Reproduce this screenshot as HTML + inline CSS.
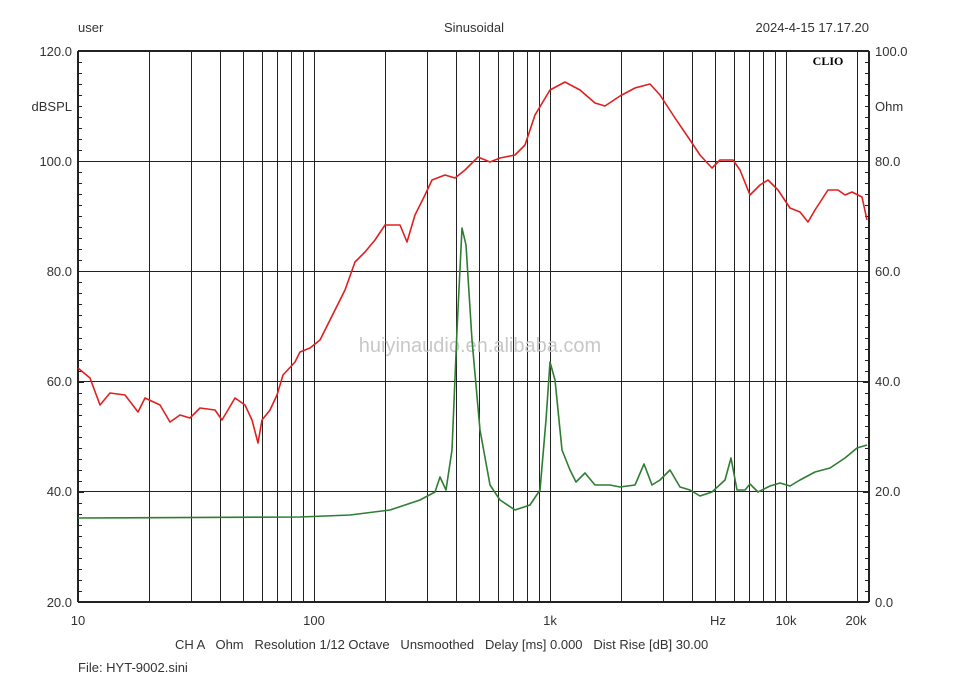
<!DOCTYPE html>
<html><head><meta charset="utf-8"><style>
html,body{margin:0;padding:0;background:#fff;width:960px;height:692px;overflow:hidden}
svg text{font-family:"Liberation Sans",sans-serif;font-size:13px;fill:#333}
</style></head><body>
<svg width="960" height="692" viewBox="0 0 960 692" xmlns="http://www.w3.org/2000/svg">
<g id="grid" stroke="#222" stroke-width="1"></g>
<text x="78" y="32">user</text>
<text x="474" y="32" text-anchor="middle">Sinusoidal</text>
<text x="869" y="32" text-anchor="end">2024-4-15 17.17.20</text>
<text x="72" y="56" text-anchor="end">120.0</text>
<text x="72" y="111" text-anchor="end">dBSPL</text>
<text x="72" y="166" text-anchor="end">100.0</text>
<text x="72" y="276" text-anchor="end">80.0</text>
<text x="72" y="386" text-anchor="end">60.0</text>
<text x="72" y="496" text-anchor="end">40.0</text>
<text x="72" y="607" text-anchor="end">20.0</text>
<text x="875" y="56">100.0</text>
<text x="875" y="111">Ohm</text>
<text x="875" y="166">80.0</text>
<text x="875" y="276">60.0</text>
<text x="875" y="386">40.0</text>
<text x="875" y="496">20.0</text>
<text x="875" y="607">0.0</text>
<text x="78" y="625" text-anchor="middle">10</text>
<text x="314" y="625" text-anchor="middle">100</text>
<text x="550" y="625" text-anchor="middle">1k</text>
<text x="718" y="625" text-anchor="middle">Hz</text>
<text x="786" y="625" text-anchor="middle">10k</text>
<text x="856" y="625" text-anchor="middle">20k</text>
<text x="175" y="649" xml:space="preserve">CH A   Ohm   Resolution 1/12 Octave   Unsmoothed   Delay [ms] 0.000   Dist Rise [dB] 30.00</text>
<text x="78" y="672">File: HYT-9002.sini</text>
<text x="480" y="352" text-anchor="middle" style="font-size:20px;fill:#c8c8c8">huiyinaudio.en.alibaba.com</text>
<rect x="806" y="52" width="44" height="17" fill="#fff"/>
<text x="828" y="65" text-anchor="middle" style="font-family:'Liberation Serif',serif;font-weight:bold;font-size:12px;fill:#000">CLIO</text>
<polyline fill="none" stroke="#2e7d32" stroke-width="1.6" stroke-linejoin="round" points="78,518 300,517 350,515 390,510 420,500 435,492 440,477 446,490 452,450 457,330 462,228 466,245 472,340 480,430 490,485 500,500 515,510 530,505 540,490 546,420 550,362 555,380 562,450 570,470 576,482 585,473 595,485 610,485 620,487 635,485 644,464 652,485 660,480 670,470 680,487 690,490 700,496 712,492 725,480 731,458 737,490 745,490 750,484 758,492 770,486 780,483 790,486 800,480 815,472 830,468 845,458 857,448 867,445"/>
<polyline fill="none" stroke="#e02020" stroke-width="1.6" stroke-linejoin="round" points="78,368 90,378 100,405 110,393 125,395 138,412 145,398 160,405 170,422 180,415 190,418 200,408 215,410 222,420 235,398 245,405 252,420 258,443 262,420 270,410 277,395 283,375 295,362 300,352 310,348 320,340 330,320 345,290 355,262 365,252 375,240 385,225 400,225 407,242 415,215 425,195 432,180 445,175 455,178 465,170 478,157 490,162 500,158 515,155 525,145 535,115 550,90 565,82 580,90 595,103 605,106 620,96 635,88 650,84 660,95 675,118 690,140 700,155 712,168 720,160 733,160 740,170 750,195 760,185 768,180 778,190 790,208 800,212 808,222 815,210 828,190 838,190 845,195 852,192 862,197 867,220"/>
</svg>
<script>
var g=document.getElementById('grid'),ns='http://www.w3.org/2000/svg';
function L(x1,y1,x2,y2,w){var l=document.createElementNS(ns,'line');l.setAttribute('x1',x1);l.setAttribute('y1',y1);l.setAttribute('x2',x2);l.setAttribute('y2',y2);if(w)l.setAttribute('stroke-width',w);g.appendChild(l);}
function X(f){return 78+236*Math.log10(f/10);}
[10,100,1000,10000].forEach(function(d){for(var k=1;k<10;k++){var f=d*k;if(f>20000||f==10)continue;var x=Math.round(X(f))+0.5;L(x,51,x,602);}});
[161,271,381,491].forEach(function(y){L(78,y+0.5,869,y+0.5);});
for(var d=20;d<=120;d+=2){var y=Math.round(51+(120-d)*5.51)+0.5;L(78,y,d%20?82:84,y);L(869,y,d%20?865:863,y);}
L(78,51,869,51,2);L(78,602,869,602,2);L(78,51,78,602,2);L(869,51,869,602,2);
</script>
</body></html>
